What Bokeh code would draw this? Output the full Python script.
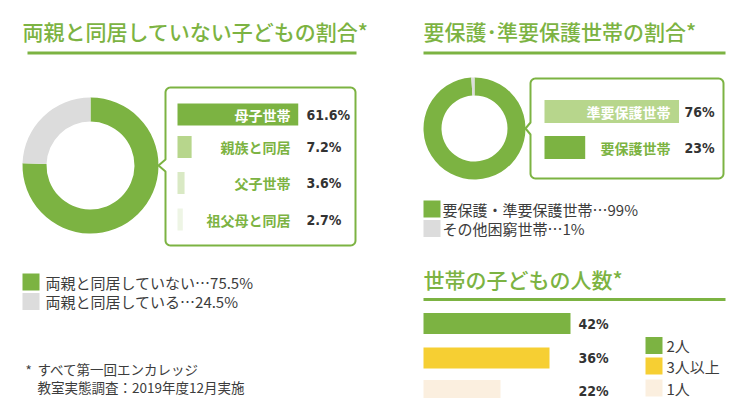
import numpy as np
from bokeh.plotting import figure
from bokeh.models import Range1d
from bokeh.core.properties import value
from bokeh.embed import file_html
from bokeh.resources import INLINE

# ---------------- data ----------------
left_title = "両親と同居していない子どもの割合*"
left_donut_labels = ["両親と同居していない", "両親と同居している"]
left_donut_values = [75.5, 24.5]
left_detail_labels = ["母子世帯", "親族と同居", "父子世帯", "祖父母と同居"]
left_detail_values = [61.6, 7.2, 3.6, 2.7]

right_title = "要保護･準要保護世帯の割合*"
right_donut_labels = ["要保護・準要保護世帯", "その他困窮世帯"]
right_donut_values = [99, 1]
right_detail_labels = ["準要保護世帯", "要保護世帯"]
right_detail_values = [76, 23]

kids_title = "世帯の子どもの人数*"
kids_labels = ["2人", "3人以上", "1人"]
kids_values = [42, 36, 22]

footnote_mark = "*"
footnote_lines = ["すべて第一回エンカレッジ", "教室実態調査：2019年度12月実施"]

# ---------------- styles ----------------
GREEN = "#7cb342"
GRAY = "#dcdcdc"
LIGHT1 = "#b7d68c"
LIGHT2 = "#d9e9c4"
LIGHT3 = "#eef5e5"
YELLOW = "#f6cf33"
CREAM = "#fbefdf"
DARK = "#333333"
TEXT = "#3c3c3c"
JP = value("Noto Sans CJK JP")
JP_MED = value("Noto Sans CJK JP Medium")
NUM = value("DejaVu Sans Condensed")

W, H = 738, 398
X0, Y0 = 0, 0  # coordinate of the figure's top-left in the reference picture

p = figure(width=W, height=H, x_range=Range1d(X0, X0 + W), y_range=Range1d(Y0 + H, Y0),
           output_backend="svg", toolbar_location=None, min_border=0,
           x_axis_type=None, y_axis_type=None)
p.grid.visible = False
p.outline_line_color = None


def px_range(px0, px_per_unit):
    start = -(px0 - X0) / px_per_unit
    return Range1d(start, start + W / px_per_unit)


p.extra_x_ranges = {
    "left_detail": px_range(177, 1.96),
    "right_detail": px_range(544, 1.77),
    "kids": px_range(423, 3.5),
}


def title(x, y, txt, x_line0, x_line1, y_line):
    p.text(x=[x], y=[y], text=[txt], text_font=JP_MED,
           text_font_size="21px", text_color=GREEN, text_baseline="middle")
    p.segment(x0=[x_line0], y0=[y_line], x1=[x_line1], y1=[y_line],
              line_color=GREEN, line_width=3)


def donut(cx, cy, r_in, r_out, values, colors):
    v = np.array(values, dtype=float)
    frac = v / v.sum()
    ends = np.cumsum(frac)
    starts = ends - frac
    p.annular_wedge(x=cx, y=cy, inner_radius=r_in, outer_radius=r_out,
                    inner_radius_units="screen", outer_radius_units="screen",
                    start_angle=np.pi / 2 - starts * 2 * np.pi,
                    end_angle=np.pi / 2 - ends * 2 * np.pi,
                    direction="clock", fill_color=colors, line_color=None)


def callout(x0, y0, x1, y1, tip_x, tip_y, half=6, r=5):
    xs, ys = [], []

    def arc(cx, cy, a0, a1):
        for t in np.linspace(a0, a1, 8):
            xs.append(cx + r * np.cos(t))
            ys.append(cy + r * np.sin(t))

    arc(x0 + r, y0 + r, np.pi, 1.5 * np.pi)
    arc(x1 - r, y0 + r, 1.5 * np.pi, 2 * np.pi)
    arc(x1 - r, y1 - r, 0, 0.5 * np.pi)
    arc(x0 + r, y1 - r, 0.5 * np.pi, np.pi)
    xs += [x0, tip_x, x0]
    ys += [tip_y + half, tip_y, tip_y - half]
    p.patch(xs, ys, fill_color="white", line_color=GREEN, line_width=2)


def legend(x_sq, x_txt, ys, colors, texts, size=17, font="15px"):
    p.rect(x=[x_sq] * len(ys), y=ys, width=size, height=size,
           fill_color=colors, line_color=None)
    p.text(x=[x_txt] * len(ys), y=ys, text=texts, text_font=JP,
           text_font_size=font, text_color=TEXT, text_baseline="middle")


# ---------------- left panel ----------------
title(22, 30, left_title, 27, 356, 52.5)
donut(90, 165, 44, 68, left_donut_values, [GREEN, GRAY])
callout(165, 87, 355, 245, 158, 165)

left_rows = [114, 146.5, 182.5, 219]
p.hbar(y=left_rows, left=0, right=left_detail_values, height=22,
       fill_color=[GREEN, LIGHT1, LIGHT2, LIGHT3], line_color=None,
       x_range_name="left_detail")
p.text(x=[290] * 4, y=left_rows, text=left_detail_labels, text_align="right",
       text_baseline="middle", text_font=JP, text_font_style="bold",
       text_font_size="14px", text_color=["white", GREEN, GREEN, GREEN])
p.text(x=[306] * 4, y=left_rows, text=[f"{v}%" for v in left_detail_values],
       text_baseline="middle", text_font=NUM, text_font_style="bold",
       text_font_size="14px", text_color=DARK)

legend(30.5, 45, [281.5, 301],
       [GREEN, GRAY],
       [f"{l}…{v}%" for l, v in zip(left_donut_labels, left_donut_values)])

p.text(x=[25], y=[369], text=[footnote_mark], text_font=JP, text_font_size="13.5px",
       text_color=TEXT, text_baseline="middle")
p.text(x=[37, 37], y=[368, 386], text=footnote_lines, text_font=JP,
       text_font_size="13.5px", text_color=TEXT, text_baseline="middle")

# ---------------- right top panel ----------------
title(423, 30, right_title, 423, 725, 52.5)
donut(474, 128, 33, 51, right_donut_values, [GREEN, GRAY])
callout(530, 78, 723, 178, 525, 128)

right_rows = [111, 147]
p.hbar(y=right_rows, left=0, right=right_detail_values, height=23,
       fill_color=[LIGHT1, GREEN], line_color=None, x_range_name="right_detail")
p.text(x=[670] * 2, y=right_rows, text=right_detail_labels, text_align="right",
       text_baseline="middle", text_font=JP, text_font_style="bold",
       text_font_size="14px", text_color=["white", GREEN])
p.text(x=[684] * 2, y=right_rows, text=[f"{v}%" for v in right_detail_values],
       text_baseline="middle", text_font=NUM, text_font_style="bold",
       text_font_size="14px", text_color=DARK)

legend(431.5, 442, [208.5, 228],
       [GREEN, GRAY],
       [f"{l}…{v}%" for l, v in zip(right_donut_labels, right_donut_values)])

# ---------------- right bottom panel ----------------
title(423, 278, kids_title, 423, 725, 299)
kids_rows = [323, 357.5, 390]
kids_colors = [GREEN, YELLOW, CREAM]
p.hbar(y=kids_rows, left=0, right=kids_values, height=21,
       fill_color=kids_colors, line_color=None, x_range_name="kids")
p.text(x=[578] * 3, y=kids_rows, text=[f"{v}%" for v in kids_values],
       text_baseline="middle", text_font=NUM, text_font_style="bold",
       text_font_size="14px", text_color=DARK)
legend(653.5, 666, [345, 365.5, 387.5], kids_colors, kids_labels)

open("out.html", "w").write(file_html(p, INLINE))
